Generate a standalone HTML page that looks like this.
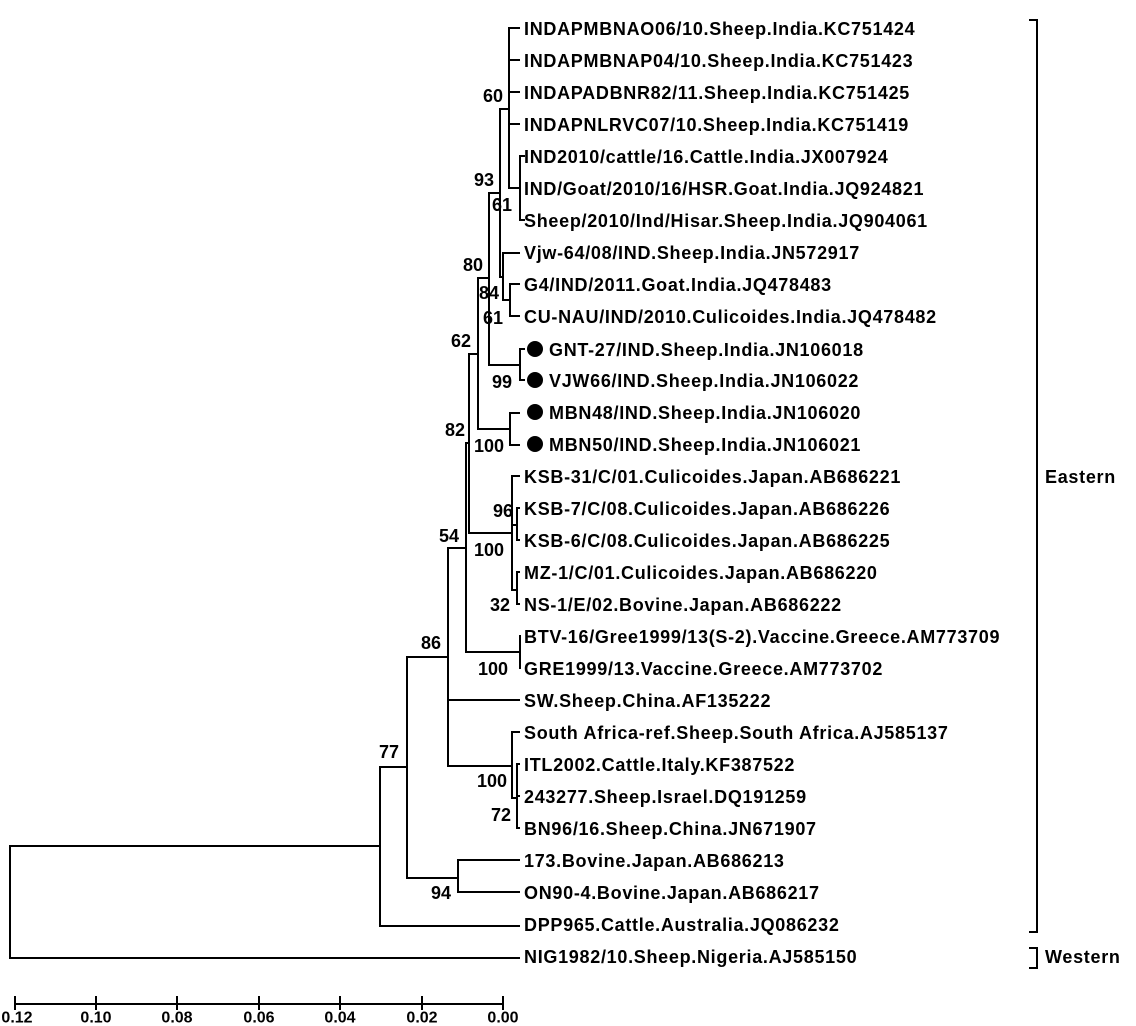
<!DOCTYPE html>
<html><head><meta charset="utf-8"><style>
html,body{margin:0;padding:0;background:#fff;}
svg{display:block;font-family:"Liberation Sans",Arial,sans-serif;font-weight:bold;font-size:18px;letter-spacing:0.7px;}
</style></head><body>
<svg width="1136" height="1026" xmlns="http://www.w3.org/2000/svg">
<g stroke="#000" stroke-width="2" fill="none" stroke-linecap="square">
<path d="M509 28V188 M509 28H519 M509 60H519 M509 92H519 M509 124H519 M509 188H520 M520 156V220 M520 156H524 M520 220H524"/>
<path d="M500 109H509 M500 109V277 M500 277H503 M503 253V300 M503 253H519 M503 300H510 M510 284V316 M510 284H519 M510 316H519"/>
<path d="M489 193H500 M489 193V365 M489 365H520 M520 349V380 M520 349H524 M520 380H524"/>
<path d="M478 278H489 M478 278V429 M478 429H510 M510 413V445 M510 413H519 M510 445H519"/>
<path d="M469 354H478 M469 354V533 M469 533H512 M512 476V590 M512 476H519 M512 525H517 M517 508V540 M517 508H519 M517 540H519 M512 590H517 M517 572V604 M517 572H519 M517 604H519"/>
<path d="M466 443H469 M466 443V652 M466 652H520 M520 636V668"/>
<path d="M448 548H466 M448 548V766 M448 700H519 M448 766H512 M512 732V798 M512 732H519 M512 798H517 M517 764V828 M517 764H519 M517 796H519 M517 828H519"/>
<path d="M407 657H448 M407 657V878 M407 878H458 M458 860V892 M458 860H519 M458 892H519"/>
<path d="M380 767H407 M380 767V926 M380 926H519"/>
<path d="M10 846H380 M10 846V958 M10 958H519"/>
<path d="M1030 20H1037V932H1030 M1030 948H1037V968H1030"/>
<path d="M15 1004H503 M15 997V1009 M96 997V1009 M177 997V1009 M259 997V1009 M340 997V1009 M422 997V1009 M503 997V1009"/>
</g>
<g fill="#000">
<circle cx="535" cy="349" r="8"/><circle cx="535" cy="380" r="8"/><circle cx="535" cy="412" r="8"/><circle cx="535" cy="444" r="8"/>
</g>
<g fill="#000" dominant-baseline="central">
<text x="524" y="29">INDAPMBNAO06/10.Sheep.India.KC751424</text>
<text x="524" y="61">INDAPMBNAP04/10.Sheep.India.KC751423</text>
<text x="524" y="93">INDAPADBNR82/11.Sheep.India.KC751425</text>
<text x="524" y="125">INDAPNLRVC07/10.Sheep.India.KC751419</text>
<text x="524" y="157">IND2010/cattle/16.Cattle.India.JX007924</text>
<text x="524" y="189">IND/Goat/2010/16/HSR.Goat.India.JQ924821</text>
<text x="524" y="221">Sheep/2010/Ind/Hisar.Sheep.India.JQ904061</text>
<text x="524" y="253">Vjw-64/08/IND.Sheep.India.JN572917</text>
<text x="524" y="285">G4/IND/2011.Goat.India.JQ478483</text>
<text x="524" y="317">CU-NAU/IND/2010.Culicoides.India.JQ478482</text>
<text x="549" y="350">GNT-27/IND.Sheep.India.JN106018</text>
<text x="549" y="381">VJW66/IND.Sheep.India.JN106022</text>
<text x="549" y="413">MBN48/IND.Sheep.India.JN106020</text>
<text x="549" y="445">MBN50/IND.Sheep.India.JN106021</text>
<text x="524" y="477">KSB-31/C/01.Culicoides.Japan.AB686221</text>
<text x="524" y="509">KSB-7/C/08.Culicoides.Japan.AB686226</text>
<text x="524" y="541">KSB-6/C/08.Culicoides.Japan.AB686225</text>
<text x="524" y="573">MZ-1/C/01.Culicoides.Japan.AB686220</text>
<text x="524" y="605">NS-1/E/02.Bovine.Japan.AB686222</text>
<text x="524" y="637">BTV-16/Gree1999/13(S-2).Vaccine.Greece.AM773709</text>
<text x="524" y="669">GRE1999/13.Vaccine.Greece.AM773702</text>
<text x="524" y="701">SW.Sheep.China.AF135222</text>
<text x="524" y="733">South Africa-ref.Sheep.South Africa.AJ585137</text>
<text x="524" y="765">ITL2002.Cattle.Italy.KF387522</text>
<text x="524" y="797">243277.Sheep.Israel.DQ191259</text>
<text x="524" y="829">BN96/16.Sheep.China.JN671907</text>
<text x="524" y="861">173.Bovine.Japan.AB686213</text>
<text x="524" y="893">ON90-4.Bovine.Japan.AB686217</text>
<text x="524" y="925">DPP965.Cattle.Australia.JQ086232</text>
<text x="524" y="957">NIG1982/10.Sheep.Nigeria.AJ585150</text>
<text x="1045" y="477">Eastern</text>
<text x="1045" y="957">Western</text>
</g>
<g fill="#000" dominant-baseline="central" text-anchor="middle" style="letter-spacing:0">
<text x="493" y="96">60</text><text x="484" y="180">93</text><text x="502" y="205">61</text>
<text x="473" y="265">80</text><text x="489" y="293">84</text><text x="493" y="318">61</text>
<text x="461" y="341">62</text><text x="502" y="382">99</text><text x="455" y="430">82</text>
<text x="489" y="446">100</text><text x="503" y="511">96</text><text x="489" y="550">100</text>
<text x="449" y="536">54</text><text x="500" y="605">32</text><text x="431" y="643">86</text>
<text x="493" y="669">100</text><text x="389" y="752">77</text><text x="492" y="781">100</text>
<text x="501" y="815">72</text><text x="441" y="893">94</text>
</g>
<g fill="#000" dominant-baseline="central" text-anchor="middle" style="font-size:16px;letter-spacing:0">
<text x="17" y="1018">0.12</text><text x="96" y="1018">0.10</text><text x="177" y="1018">0.08</text>
<text x="259" y="1018">0.06</text><text x="340" y="1018">0.04</text><text x="422" y="1018">0.02</text>
<text x="503" y="1018">0.00</text>
</g>
</svg>
</body></html>
